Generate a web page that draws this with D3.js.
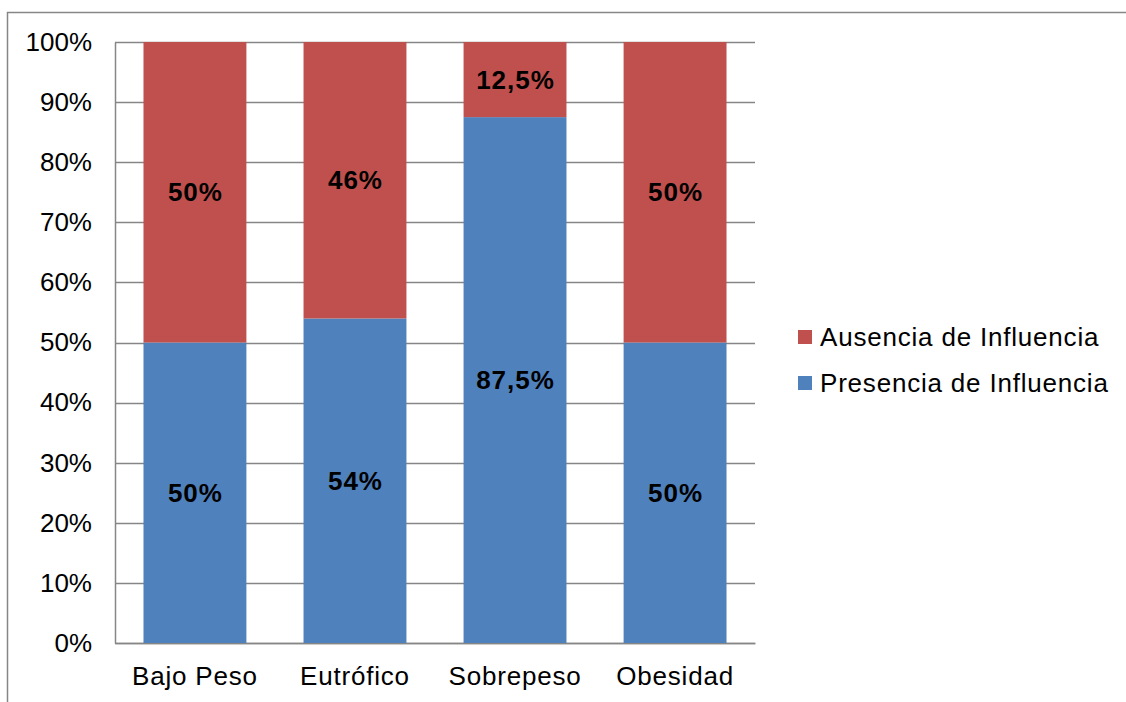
<!DOCTYPE html>
<html>
<head>
<meta charset="utf-8">
<script src="https://cdn.jsdelivr.net/npm/d3@7/dist/d3.min.js"></script>
<style>
  html, body { margin: 0; padding: 0; background: #fff; }
  svg { display: block; font-family: "Liberation Sans", Arial, sans-serif; }
</style>
</head>
<body>
<svg id="chart" width="1126" height="702"></svg>
<script>
// Categories and stacked shares (percent)
const categories = ["Bajo Peso", "Eutrófico", "Sobrepeso", "Obesidad"];
const presencia = [50, 54, 87.5, 50];
const ausencia = [50, 46, 12.5, 50];
const presenciaLabels = ["50%", "54%", "87,5%", "50%"];
const ausenciaLabels = ["50%", "46%", "12,5%", "50%"];
const yTicks = [0, 10, 20, 30, 40, 50, 60, 70, 80, 90, 100];
const seriesNames = ["Ausencia de Influencia", "Presencia de Influencia"];

const colors = { presencia: "#4F81BD", ausencia: "#C0504D" };
const gridColor = "#868686";

const svg = d3.select("#chart");

// Outer chart frame (top and left edges)
svg.append("path")
  .attr("d", "M7.5,702 V12.5 H1126")
  .attr("fill", "none")
  .attr("stroke", gridColor)
  .attr("stroke-width", 1.5);

const plot = { left: 115, right: 755, top: 42, bottom: 643 };

const x = d3.scaleBand()
  .domain(categories)
  .range([plot.left, plot.right])
  .paddingInner(0.357)
  .paddingOuter(0.178);

const y = d3.scaleLinear()
  .domain([0, 100])
  .range([plot.bottom, plot.top]);

// Horizontal gridlines
svg.append("g")
  .selectAll("line")
  .data(yTicks)
  .join("line")
  .attr("x1", plot.left)
  .attr("x2", plot.right)
  .attr("y1", d => Math.round(y(d)) + 0.5)
  .attr("y2", d => Math.round(y(d)) + 0.5)
  .attr("stroke", gridColor)
  .attr("stroke-width", 1.5);

// Y axis
const yAxis = svg.append("g")
  .attr("transform", `translate(${plot.left},0)`)
  .call(d3.axisLeft(y).tickValues(yTicks).tickFormat(d => d + "%").tickSize(0).tickPadding(23));
yAxis.select(".domain").attr("stroke", gridColor).attr("stroke-width", 1.5);
yAxis.selectAll("text")
  .attr("font-size", 26)
  .attr("fill", "#000")
  .attr("font-family", "Liberation Sans, Arial, sans-serif");

// X axis
const xAxis = svg.append("g")
  .attr("transform", `translate(0,${plot.bottom})`)
  .call(d3.axisBottom(x).tickSize(0).tickPadding(24));
xAxis.select(".domain").attr("stroke", gridColor).attr("stroke-width", 1.5);
xAxis.selectAll("text")
  .attr("font-size", 26)
  .attr("letter-spacing", "0.8px")
  .attr("fill", "#000")
  .attr("font-family", "Liberation Sans, Arial, sans-serif");

// Stacked bars
const rows = categories.map((c, i) => ({
  cat: c,
  presencia: presencia[i],
  ausencia: ausencia[i],
  pLabel: presenciaLabels[i],
  aLabel: ausenciaLabels[i]
}));
const stack = d3.stack().keys(["presencia", "ausencia"])(rows);

const layers = svg.append("g")
  .selectAll("g")
  .data(stack)
  .join("g")
  .attr("fill", d => colors[d.key]);

layers.selectAll("rect")
  .data(d => d)
  .join("rect")
  .attr("x", d => x(d.data.cat))
  .attr("width", x.bandwidth())
  .attr("y", d => y(d[1]))
  .attr("height", d => y(d[0]) - y(d[1]));

// Value labels centred in each segment
const labelGroup = svg.append("g")
  .attr("font-size", 26)
  .attr("font-weight", "bold")
  .attr("letter-spacing", "1px")
  .attr("text-anchor", "middle")
  .attr("fill", "#000");

stack.forEach(layer => {
  layer.forEach(d => {
    labelGroup.append("text")
      .attr("x", x(d.data.cat) + x.bandwidth() / 2 + 0.5)
      .attr("y", (y(d[0]) + y(d[1])) / 2)
      .attr("dy", "0.35em")
      .text(layer.key === "presencia" ? d.data.pLabel : d.data.aLabel);
  });
});

// Legend
const legendKeys = ["ausencia", "presencia"];
const legend = svg.append("g");
legendKeys.forEach((k, i) => {
  const cy = 337 + i * 46;
  legend.append("rect")
    .attr("x", 798)
    .attr("y", cy - 7)
    .attr("width", 14)
    .attr("height", 14)
    .attr("fill", colors[k]);
  legend.append("text")
    .attr("x", 820)
    .attr("y", cy)
    .attr("dy", "0.35em")
    .attr("font-size", 26)
    .attr("letter-spacing", "0.8px")
    .attr("fill", "#000")
    .text(seriesNames[i]);
});
</script>
</body>
</html>
